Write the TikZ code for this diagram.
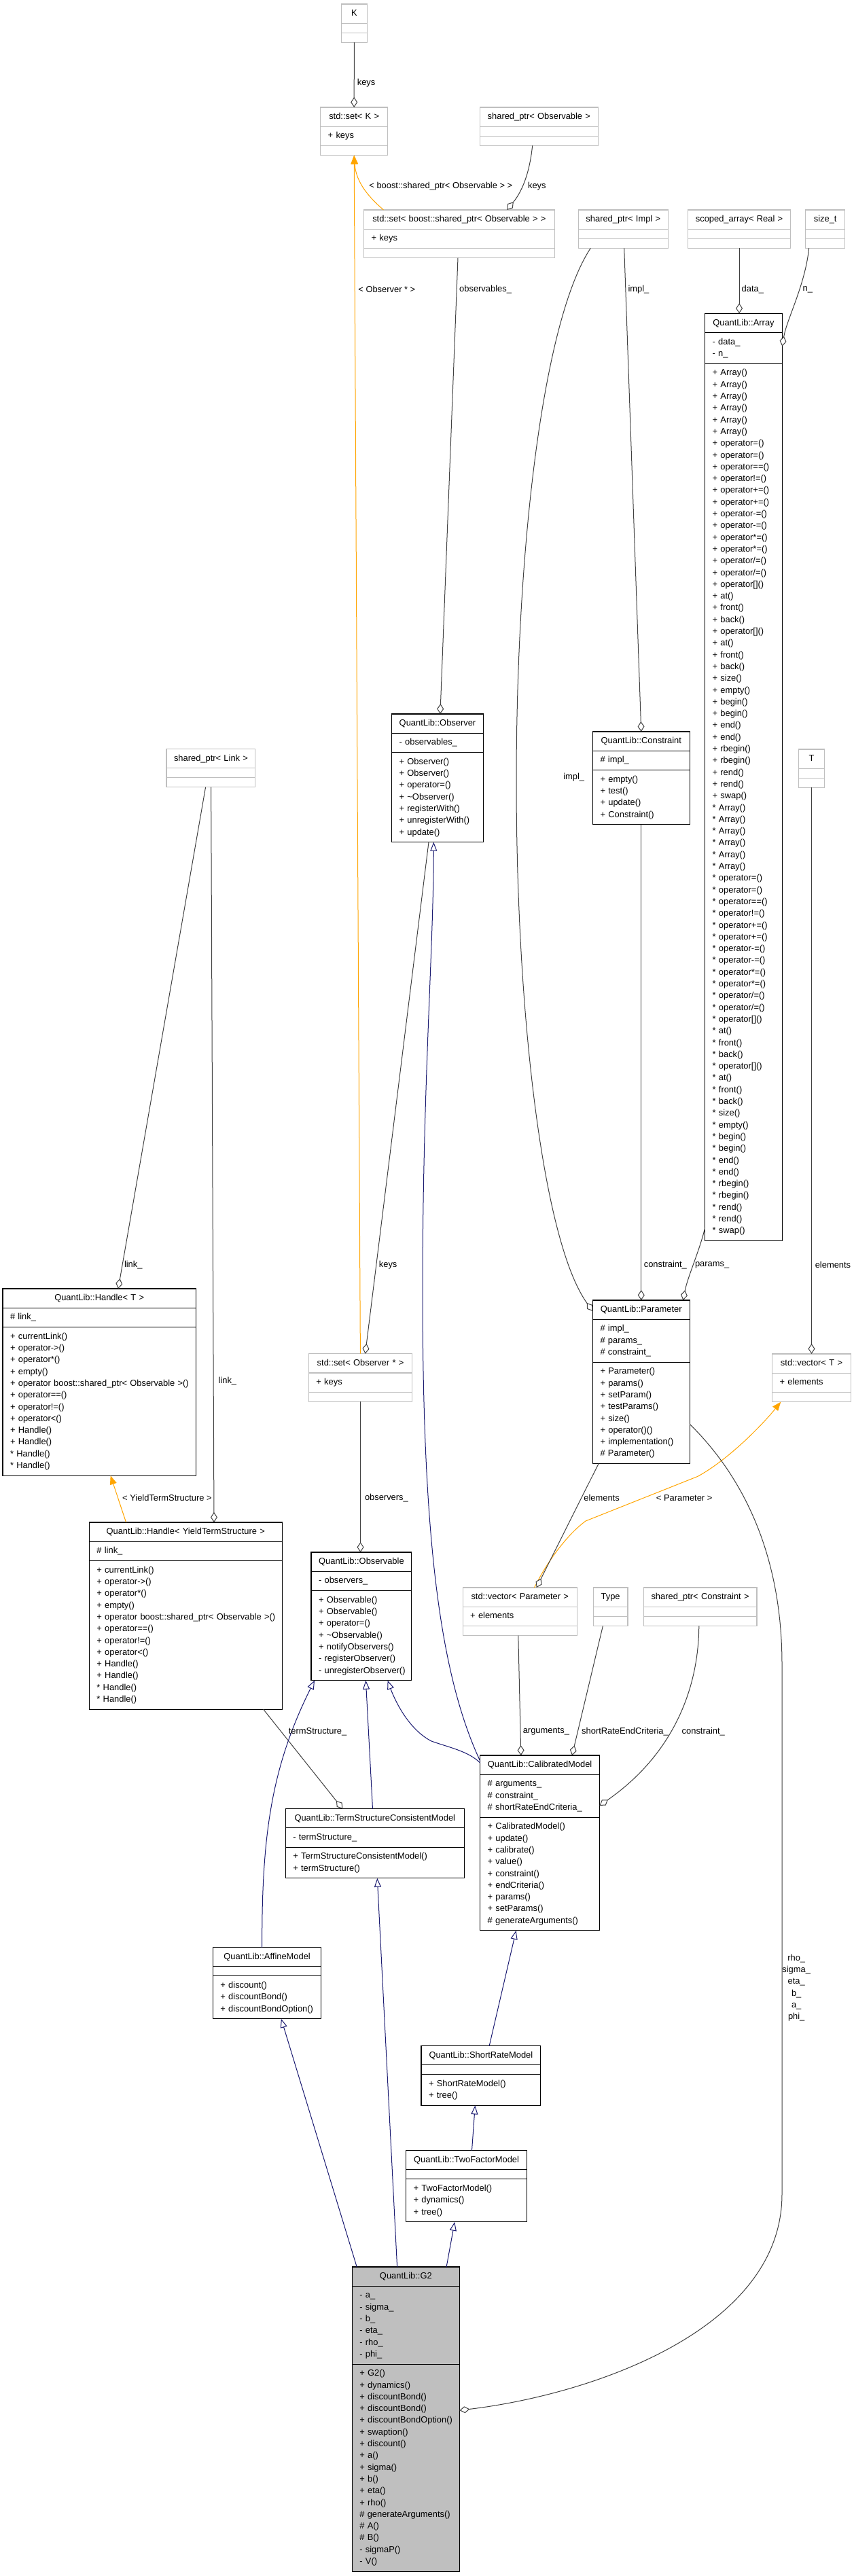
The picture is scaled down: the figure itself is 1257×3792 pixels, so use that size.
\documentclass[tikz,border=0pt]{standalone}
\usepackage{fontspec}
\newfontfamily\umlfamily{Liberation Sans}
\usetikzlibrary{arrows.meta,calc}

\definecolor{grey25}{HTML}{404040}
\definecolor{grey75}{HTML}{BFBFBF}
\definecolor{midblue}{HTML}{191970}
\definecolor{tmplorange}{HTML}{FFA500}

\newcommand{\umlfont}{\umlfamily\fontsize{12.9}{17.3}\selectfont}
\newcommand{\umlrows}[1]{\begin{tabular}{@{}l@{}}#1\end{tabular}}

% one class box: header, attributes, methods
\newcommand{\umlclass}[8][docbox]{%
  \pgfmathsetmacro{\clsw}{#5-22}%
  \node[#1, text width=\clsw pt, align=center] (#2) at (#3,#4) {\umlrows{#6}};
  \node[#1, text width=\clsw pt, align=left] (#2-a) at (#2.south west) {\umlrows{#7}};
  \node[#1, text width=\clsw pt, align=left] (#2-m) at (#2-a.south west) {\umlrows{#8}};
}

\newcommand{\arrayctors}[1]{#1 Array()\\#1 Array()\\#1 Array()\\#1 Array()\\#1 Array()\\#1 Array()}
\newcommand{\arrayops}[1]{%
#1 operator=()\\#1 operator=()\\#1 operator==()\\#1 operator!=()\\%
#1 operator+=()\\#1 operator+=()\\#1 operator-=()\\#1 operator-=()\\%
#1 operator*=()\\#1 operator*=()\\#1 operator/=()\\#1 operator/=()\\%
#1 operator[]()\\#1 at()\\#1 front()\\#1 back()\\%
#1 operator[]()\\#1 at()\\#1 front()\\#1 back()\\%
#1 size()\\#1 empty()\\#1 begin()\\#1 begin()\\#1 end()\\#1 end()\\%
#1 rbegin()\\#1 rbegin()\\#1 rend()\\#1 rend()\\#1 swap()}
\newcommand{\handleops}{+ currentLink()\\+ operator->()\\+ operator*()\\+ empty()\\+ operator boost::shared\_ptr< Observable >()\\+ operator==()\\+ operator!=()\\+ operator<()\\+ Handle()\\+ Handle()\\{*} Handle()\\{*} Handle()}

\tikzset{
  docbox/.style={draw=black, line width=1.1pt, fill=white, inner xsep=11pt, inner ysep=5.5pt, outer sep=0pt, anchor=north west, font=\umlfont},
  extbox/.style={docbox, draw=grey75},
  gbox/.style={docbox, fill=grey75},
  usage/.style={draw=grey25, line width=1pt, -{Diamond[fill=white, length=15pt, width=10pt]}},
  inherit/.style={draw=midblue, line width=1pt, -{Triangle[fill=white, length=13pt, width=10pt]}},
  tmpl/.style={draw=tmplorange, line width=1pt, -{Triangle[length=13pt, width=10pt]}},
  elabel/.style={font=\umlfont, anchor=west, inner sep=0pt},
}

\begin{document}
\begin{tikzpicture}[x=1pt, y=-1pt]

\fill[white] (0,0) rectangle (1257,3792);
\useasboundingbox (0,0) rectangle (1257,3792);

% Top row
\umlclass[extbox]{k}{502.3}{6}{38}{K}{}{}
\umlclass[extbox]{setk}{471.7}{158}{99}{std::set< K >}{+ keys}{}
\umlclass[extbox]{spobs}{706.6}{158}{173.5}{shared\_ptr< Observable >}{}{}
\umlclass[extbox]{setspobs}{535.6}{309}{280.6}{std::set< boost::shared\_ptr< Observable > >}{+ keys}{}
\umlclass[extbox]{spimpl}{851.2}{309}{132.2}{shared\_ptr< Impl >}{}{}
\umlclass[extbox]{scarr}{1012.7}{309}{150.7}{scoped\_array< Real >}{}{}
\umlclass[extbox]{sizet}{1185.9}{309}{57.5}{size\_t}{}{}

% Array
\umlclass{array}{1037.6}{461.4}{113.7}{QuantLib::Array}{- data\_\\- n\_}{\arrayctors{+}\\\arrayops{+}\\\arrayctors{{*}}\\\arrayops{{*}}}

% Observer, Constraint
\umlclass{observer}{576.6}{1051}{134.8}{QuantLib::Observer}{- observables\_}{+ Observer()\\+ Observer()\\+ operator=()\\+ \textasciitilde Observer()\\+ registerWith()\\+ unregisterWith()\\+ update()}
\umlclass{constraint}{872.5}{1077}{142.6}{QuantLib::Constraint}{\# impl\_}{+ empty()\\+ test()\\+ update()\\+ Constraint()}
\umlclass[extbox]{splink}{245}{1102.4}{130.6}{shared\_ptr< Link >}{}{}
\umlclass[extbox]{tt}{1175.5}{1103}{38}{T}{}{}

% Handles, Parameter
\umlclass{handlet}{4}{1897}{284.5}{QuantLib::Handle< T >}{\# link\_}{\handleops}
\umlclass{parameter}{872.5}{1914}{142.6}{QuantLib::Parameter}{\# impl\_\\\# params\_\\\# constraint\_}{+ Parameter()\\+ params()\\+ setParam()\\+ testParams()\\+ size()\\+ operator()()\\+ implementation()\\\# Parameter()}
\umlclass[extbox]{setobsr}{454.4}{1992.7}{152.3}{std::set< Observer * >}{+ keys}{}
\umlclass[extbox]{vect}{1136.5}{1993}{116}{std::vector< T >}{+ elements}{}
\umlclass{handleyts}{131.4}{2241}{283.7}{QuantLib::Handle< YieldTermStructure >}{\# link\_}{\handleops}
\umlclass{observable}{458}{2285}{147.9}{QuantLib::Observable}{- observers\_}{+ Observable()\\+ Observable()\\+ operator=()\\+ \textasciitilde Observable()\\+ notifyObservers()\\- registerObserver()\\- unregisterObserver()}
\umlclass[extbox]{vecparam}{681.2}{2337}{168}{std::vector< Parameter >}{+ elements}{}
\umlclass[extbox]{type}{873.3}{2337}{50.7}{Type}{}{}
\umlclass[extbox]{spconstr}{947.2}{2337}{166.8}{shared\_ptr< Constraint >}{}{}

% Models
\umlclass{calibrated}{706.6}{2584}{176}{QuantLib::CalibratedModel}{\# arguments\_\\\# constraint\_\\\# shortRateEndCriteria\_}{+ CalibratedModel()\\+ update()\\+ calibrate()\\+ value()\\+ constraint()\\+ endCriteria()\\+ params()\\+ setParams()\\\# generateArguments()}
\umlclass{tscm}{420.3}{2662.6}{263}{QuantLib::TermStructureConsistentModel}{- termStructure\_}{+ TermStructureConsistentModel()\\+ termStructure()}
\umlclass{affine}{313.4}{2866.6}{159.5}{QuantLib::AffineModel}{}{+ discount()\\+ discountBond()\\+ discountBondOption()}
\umlclass{shortrate}{620}{3011.5}{175.8}{QuantLib::ShortRateModel}{}{+ ShortRateModel()\\+ tree()}
\umlclass{twofactor}{597.5}{3165.6}{178.2}{QuantLib::TwoFactorModel}{}{+ TwoFactorModel()\\+ dynamics()\\+ tree()}
\umlclass[gbox]{gtwo}{518.3}{3337}{158.1}{QuantLib::G2}{- a\_\\- sigma\_\\- b\_\\- eta\_\\- rho\_\\- phi\_}{+ G2()\\+ dynamics()\\+ discountBond()\\+ discountBond()\\+ discountBondOption()\\+ swaption()\\+ discount()\\+ a()\\+ sigma()\\+ b()\\+ eta()\\+ rho()\\\# generateArguments()\\\# A()\\\# B()\\- sigmaP()\\- V()}

% Template instances
\draw[tmpl] ($(setspobs.north west)+(28.9,0)$) .. controls (545,292) and (524,270) .. (setk-m.south);
\draw[tmpl] ($(setobsr.north west)+(76,0)$) -- (setk-m.south);
\draw[tmpl] ($(handleyts.north west)+(54.2,0)$) -- ($(handlet-m.south west)+(158.7,0)$);
\draw[tmpl] ($(vecparam.north west)+(105.3,0)$) .. controls (810,2290) and (840,2255) .. (862,2239) -- (1026.8,2173.4) .. controls (1070,2150) and (1120,2100) .. ($(vect-m.south west)+(12.8,0)$);

% Usage
\draw[usage] (k-m.south) -- (setk.north);
\draw[usage] ($(spobs-m.south west)+(77.1,0)$) .. controls (778,270) and (760,292) .. ($(setspobs.north west)+(210.7,0)$);
\draw[usage] ($(setspobs-m.south west)+(138.4,0)$) -- ($(observer.north west)+(71.3,0)$);
\draw[usage] ($(spimpl-m.south west)+(67.5,0)$) -- (constraint.north);
\draw[usage] ($(spimpl-m.south west)+(18.1,0)$) .. controls (800,470) and (760,800) .. (760,1150) .. controls (760,1500) and (800,1830) .. ($(parameter.north west)+(0,16)$);
\draw[usage] (scarr-m.south) -- (scarr-m.south |- array.north);
\draw[usage] ($(sizet-m.south west)+(4.8,0)$) .. controls (1185,420) and (1158,470) .. ($(array-a.north east)+(0,20)$);
\draw[usage] ($(observer-m.south west)+(54.4,0)$) -- ($(setobsr.north west)+(83.2,0)$);
\draw[usage] (constraint-m.south) -- (parameter.north);
\draw[usage] ($(array-m.south west)+(0,-19)$) .. controls (1030,1840) and (1012,1880) .. ($(parameter.north west)+(133,0)$);
\draw[usage] ($(splink-m.south west)+(57.6,0)$) -- ($(handlet.north west)+(170,0)$);
\draw[usage] ($(splink-m.south west)+(65.6,0)$) -- ($(handleyts.north west)+(183.6,0)$);
\draw[usage] (setobsr-m.south) -- (setobsr-m.south |- observable.north);
\draw[usage] (tt-m.south) -- (tt-m.south |- vect.north);
\draw[usage] ($(parameter-m.south west)+(8.5,0)$) -- ($(vecparam.north west)+(108.5,0)$);
\draw[usage] ($(handleyts-m.south west)+(256.3,0)$) -- ($(tscm.north west)+(84,0)$);
\draw[usage] ($(vecparam-m.south west)+(81.6,0)$) -- ($(calibrated.north west)+(60.2,0)$);
\draw[usage] ($(type-m.south west)+(14.1,0)$) -- ($(calibrated.north west)+(135.4,0)$);
\draw[usage] ($(spconstr-m.south west)+(81.6,0)$) .. controls (1028,2500) and (980,2590) .. ($(calibrated-a.north east)+(0,45.5)$);
\draw[usage] ($(parameter-m.north east)+(0,91)$) .. controls (1080,2160) and (1151,2270) .. (1151,2450) -- (1151,3230) .. controls (1151,3430) and (870,3525) .. ($(gtwo-m.north east)+(0,68)$);

% Inheritance
\draw[inherit] ($(calibrated.north west)+(0,8)$) .. controls (645,2460) and (622,2250) .. (622,1900) .. controls (622,1600) and (638,1400) .. ($(observer-m.south west)+(61.7,0)$);
\draw[inherit] ($(calibrated.north west)+(0,11)$) .. controls (690,2578) and (660,2572) .. (635,2563) .. controls (600,2545) and (580,2500) .. ($(observable-m.south west)+(112.6,0)$);
\draw[inherit] ($(affine.north west)+(72.3,0)$) .. controls (385,2700) and (400,2600) .. ($(observable-m.south west)+(5,0)$);
\draw[inherit] ($(tscm.north west)+(128.2,0)$) -- ($(observable-m.south west)+(80.4,0)$);
\draw[inherit] ($(shortrate.north west)+(100.2,0)$) -- ($(calibrated-m.south west)+(53,0)$);
\draw[inherit] ($(twofactor.north west)+(97,0)$) -- ($(shortrate-m.south west)+(79.3,0)$);
\draw[inherit] ($(gtwo.north west)+(138.8,0)$) -- ($(twofactor-m.south west)+(71.7,0)$);
\draw[inherit] ($(gtwo.north west)+(6.9,0)$) -- ($(affine-m.south west)+(100.5,0)$);
\draw[inherit] ($(gtwo.north west)+(66.3,0)$) -- ($(tscm-m.south west)+(135,0)$);

% Edge labels
\node[elabel] (l-keysk) at (525.6,122) {keys};
\node[elabel] (l-spobs) at (543.2,274.6) {< boost::shared\_ptr< Observable > >};
\node[elabel] (l-keysobs) at (776.9,274.6) {keys};
\node[elabel] (l-observer) at (527.2,426) {< Observer * >};
\node[elabel] (l-observables) at (676,426) {observables\_};
\node[elabel] (l-implc) at (924.3,426) {impl\_};
\node[elabel] (l-data) at (1091.5,426) {data\_};
\node[elabel] (l-n) at (1181.5,426) {n\_};
\node[elabel] (l-implp) at (829.1,1144) {impl\_};
\node[elabel] (l-linkt) at (182.8,1862) {link\_};
\node[elabel] (l-keysobsr) at (557.7,1862) {keys};
\node[elabel] (l-constrp) at (947.6,1862) {constraint\_};
\node[elabel] (l-params) at (1022.8,1862) {params\_};
\node[elabel] (l-elemt) at (1199.6,1862) {elements};
\node[elabel] (l-linkyts) at (321.4,2033.5) {link\_};
\node[elabel] (l-yts) at (180,2205) {< YieldTermStructure >};
\node[elabel] (l-observers) at (536.8,2205) {observers\_};
\node[elabel] (l-elemp) at (859.2,2205) {elements};
\node[elabel] (l-param) at (965.7,2205) {< Parameter >};
\node[elabel] (l-termstr) at (424.7,2549) {termStructure\_};
\node[elabel] (l-args) at (769.6,2549) {arguments\_};
\node[elabel] (l-srec) at (856,2549) {shortRateEndCriteria\_};
\node[elabel] (l-constrc) at (1003.5,2549) {constraint\_};
\node[elabel, anchor=center, align=center] (l-gparams) at (1172.2,2926) {rho\_\\sigma\_\\eta\_\\b\_\\a\_\\phi\_};

\end{tikzpicture}
\end{document}
